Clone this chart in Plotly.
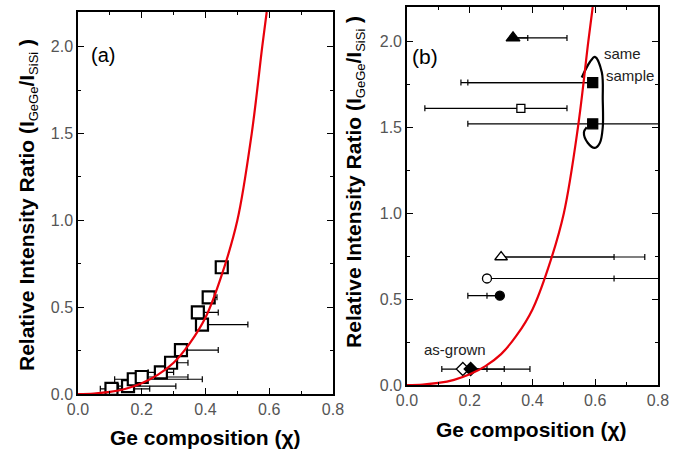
import plotly.graph_objects as go

# red model curve
curve_x = [0, 0.05, 0.1, 0.15, 0.2, 0.25, 0.3, 0.35, 0.4, 0.45, 0.5, 0.545, 0.578, 0.592]
curve_y = [0, 0.003, 0.012, 0.03, 0.062, 0.11, 0.18, 0.29, 0.44, 0.68, 1.0, 1.5, 2.0, 2.2]

# panel (a) open squares
a_x = [0.105, 0.157, 0.175, 0.20, 0.26, 0.292, 0.323, 0.389, 0.376, 0.41, 0.451]
a_y = [0.03, 0.045, 0.085, 0.098, 0.125, 0.18, 0.253, 0.40, 0.47, 0.557, 0.73]
a_minus = [0.035, 0.03, 0.06, 0.03, 0.04, 0.02, 0.02, 0.01, 0.01, 0.01, 0.01]
a_plus = [0.12, 0.15, 0.215, 0.145, 0.04, 0.053, 0.117, 0.144, 0.064, 0.026, 0.01]

# panel (b) points
b_x = [0.338, 0.592, 0.363, 0.592, 0.30, 0.255, 0.296, 0.178, 0.203]
b_y = [2.02, 1.76, 1.61, 1.52, 0.745, 0.62, 0.52, 0.093, 0.093]
b_symbol = ["triangle-up", "square", "square", "square", "triangle-up", "circle", "circle", "diamond", "diamond"]
b_fill = ["#000", "#000", "#fff", "#000", "#fff", "#fff", "#000", "#fff", "#000"]
b_size = [12, 10, 8, 10, 11, 9, 9, 10, 10]
b_minus = [0, 0.42, 0.306, 0.398, 0, 0, 0.102, 0.067, 0]
b_plus = [0.172, 0, 0.147, 0.3, 0.458, 0.6, 0, 0, 0.189]
# inner ticks on the same bars
b2_x = [0.338, 0.592, 0.30, 0.255, 0.296, 0.203, 0.203]
b2_y = [2.02, 1.76, 0.745, 0.62, 0.52, 0.093, 0.093]
b2_minus = [0, 0.398, 0, 0, 0.041, 0, 0]
b2_plus = [0.047, 0, 0.36, 0.405, 0, 0.052, 0.107]

# hand-drawn loop around "same sample"
loop_x = [0.557, 0.583, 0.599, 0.621, 0.624, 0.624, 0.615, 0.599, 0.576, 0.564, 0.573]
loop_y = [1.79, 1.88, 1.91, 1.82, 1.66, 1.50, 1.41, 1.38, 1.41, 1.47, 1.50]

fig = go.Figure()

fig.add_trace(go.Scatter(
    x=a_x, y=a_y, mode="markers", xaxis="x", yaxis="y",
    marker=dict(symbol="square", size=12, color="white", opacity=1, line=dict(color="black", width=2.2)),
    error_x=dict(type="data", symmetric=False, array=a_plus, arrayminus=a_minus,
                 color="black", thickness=1.2, width=3)))
fig.add_trace(go.Scatter(
    x=curve_x, y=curve_y, mode="lines", xaxis="x", yaxis="y",
    line=dict(color="#e8000b", width=2.2, shape="spline")))

fig.add_trace(go.Scatter(
    x=b2_x, y=b2_y, mode="markers", xaxis="x2", yaxis="y2",
    marker=dict(size=1, opacity=0),
    error_x=dict(type="data", symmetric=False, array=b2_plus, arrayminus=b2_minus,
                 color="black", thickness=1.2, width=3)))
fig.add_trace(go.Scatter(
    x=b_x, y=b_y, mode="markers", xaxis="x2", yaxis="y2",
    marker=dict(symbol=b_symbol, size=b_size, color=b_fill, opacity=1,
                line=dict(color="black", width=1.3)),
    error_x=dict(type="data", symmetric=False, array=b_plus, arrayminus=b_minus,
                 color="black", thickness=1.2, width=3)))
fig.add_trace(go.Scatter(
    x=loop_x, y=loop_y, mode="lines", xaxis="x2", yaxis="y2",
    line=dict(color="black", width=2.2, shape="spline")))
fig.add_trace(go.Scatter(
    x=curve_x, y=curve_y, mode="lines", xaxis="x2", yaxis="y2",
    line=dict(color="#e8000b", width=2.2, shape="spline")))

sans = "Liberation Sans, Arial, sans-serif"
tickfont = dict(family="Liberation Sans Narrow, Arial Narrow, sans-serif", size=16, color="#555")
titlefont = dict(family=sans, size=21, color="black", weight="bold")
sub = "<sub><span style='font-size:13px;font-weight:normal'>%s</span></sub>"
ytitle = "Relative Intensity Ratio (I" + sub % "GeGe" + "/I" + sub % "SiSi" + " )"
xtitle = "Ge composition (χ)"

def xax(domain, anchor):
    return dict(domain=domain, anchor=anchor, range=[0, 0.8], dtick=0.2, tickformat=".1f",
                showline=True, linecolor="black", linewidth=1.5, mirror="allticks",
                ticks="inside", ticklen=6, tickcolor="black", showgrid=False, zeroline=False,
                minor=dict(ticks="inside", dtick=0.1, ticklen=3, tickcolor="black"),
                tickfont=tickfont, automargin=False)

def yax(domain, anchor):
    return dict(domain=domain, anchor=anchor, range=[0, 2.2], dtick=0.5, tickformat=".1f",
                showline=True, linecolor="black", linewidth=1.5, mirror="allticks",
                ticks="inside", ticklen=6, tickcolor="black", showgrid=False, zeroline=False,
                minor=dict(ticks="inside", dtick=0.25, ticklen=3, tickcolor="black"),
                tickfont=tickfont, automargin=False)

def note(x, y, ref, text, size, color="#222"):
    return dict(x=x, y=y, xref="x" + ref, yref="y" + ref, text=text, showarrow=False,
                font=dict(family=sans, size=size, color=color))

def title(x, y, text, angle=0):
    return dict(x=x, y=y, xref="paper", yref="paper", text=text, showarrow=False,
                textangle=angle, xanchor="center", yanchor="middle", font=titlefont)

fig.update_layout(
    width=680, height=451, showlegend=False,
    paper_bgcolor="white", plot_bgcolor="white",
    margin=dict(l=0, r=0, t=0, b=0),
    xaxis=xax([0.1147, 0.4897], "y"),
    yaxis=yax([0.1264, 0.9734], "x"),
    xaxis2=xax([0.5985, 0.9676], "y2"),
    yaxis2=yax([0.1463, 0.9845], "x2"),
    annotations=[
        note(0.078, 1.95, "", "(a)", 20, "black"),
        note(0.057, 1.91, "2", "(b)", 21, "black"),
        note(0.688, 1.93, "2", "same", 15),
        note(0.712, 1.80, "2", "sample", 15),
        note(0.153, 0.204, "2", "as-grown", 15),
        title(0.0412, 0.5455, ytitle, -90),
        title(0.522, 0.5965, ytitle, -90),
        title(0.3015, 0.031, xtitle),
        title(0.781, 0.0466, xtitle),
    ],
)

fig.write_html("out.html", config={"displayModeBar": False},
               post_script="document.body.style.margin='0';")
